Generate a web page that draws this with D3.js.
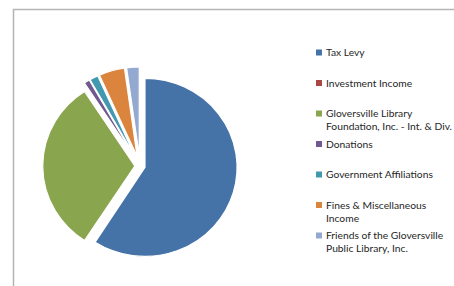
<!DOCTYPE html>
<html>
<head>
<meta charset="utf-8">
<script src="https://cdn.jsdelivr.net/npm/d3@7"></script>
<style>
  html, body { margin: 0; padding: 0; background: #fff; }
  svg { display: block; }
</style>
</head>
<body>
<svg id="chart" width="454" height="286"></svg>
<script>
// ---- data ----
const categories = [
  "Tax Levy",
  "Investment Income",
  "Gloversville Library Foundation, Inc. - Int. & Div.",
  "Donations",
  "Government Affiliations",
  "Fines & Miscellaneous Income",
  "Friends of the Gloversville Public Library, Inc."
];
const shares = [59.1, 0.1, 31.6, 1.0, 1.5, 4.5, 2.2];
const legendLines = [
  ["Tax Levy"],
  ["Investment Income"],
  ["Gloversville Library", "Foundation, Inc. - Int. & Div."],
  ["Donations"],
  ["Government Affiliations"],
  ["Fines & Miscellaneous", "Income"],
  ["Friends of the Gloversville", "Public Library, Inc."]
];

// ---- style ----
const colors = ["#4572A7", "#AA4643", "#89A54E", "#71588F", "#4198AF", "#DB843D", "#93A9CF"];
const explodePx = [5, 5, 5, 10, 10, 10, 10];

const svg = d3.select("#chart");

// frame
svg.append("path")
  .attr("d", "M13.5,286 L13.5,9.5 L454,9.5")
  .attr("fill", "none")
  .attr("stroke", "#b4b4b4")
  .attr("stroke-width", 1.5);

const cx = 140, cy = 166, r = 89, sx = 1.035;
const data = categories.map((c, i) => ({ cat: c, value: shares[i], i }));
const pie = d3.pie().sort(null).value(d => d.value).startAngle(0).endAngle(2 * Math.PI);
const arc = d3.arc().innerRadius(0).outerRadius(r);

const g = svg.append("g").attr("transform", `translate(${cx},${cy}) scale(${sx},1)`);
g.selectAll("path.slice")
  .data(pie(data))
  .join("path")
  .attr("class", "slice")
  .attr("d", arc)
  .attr("fill", d => colors[d.data.i])
  .attr("stroke", "#fff")
  .attr("stroke-width", 1.2)
  .attr("transform", d => {
    const m = (d.startAngle + d.endAngle) / 2;
    const e = explodePx[d.data.i];
    return `translate(${Math.sin(m) * e},${-Math.cos(m) * e})`;
  });

// legend
const lg = svg.append("g");
const fontFamily = "Lato, 'Open Sans', sans-serif";
// fit font size so "Government Affiliations" spans ~107px
const probe = lg.append("text").attr("font-family", fontFamily).attr("font-size", 10).text(legendLines[4][0]);
const w10 = probe.node().getComputedTextLength();
probe.remove();
const fs = Math.min(11.5, 10 * 107 / w10);

const legendY = d3.scalePoint().domain(d3.range(categories.length)).range([52.5, 235.5]);
const lineH = 13;

categories.forEach((c, i) => {
  const y = legendY(i);
  lg.append("rect")
    .attr("x", 316).attr("y", y - 3).attr("width", 6).attr("height", 6)
    .attr("fill", colors[i]);
  const t = lg.append("text")
    .attr("font-family", fontFamily)
    .attr("font-size", fs)
    .attr("fill", "#262626");
  legendLines[i].forEach((ln, k) => {
    t.append("tspan")
      .attr("x", 326)
      .attr("y", y + k * lineH)
      .attr("dy", "0.35em")
      .text(ln);
  });
});
</script>
</body>
</html>
